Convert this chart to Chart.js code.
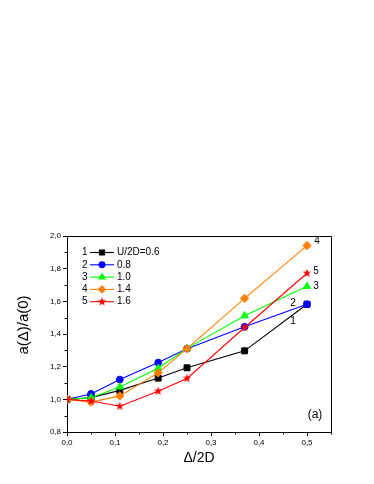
<!DOCTYPE html>
<html>
<head>
<meta charset="utf-8">
<script src="https://cdn.jsdelivr.net/npm/chart.js@4.4.1/dist/chart.umd.min.js"></script>
<style>
  html, body { margin: 0; padding: 0; background: #fff; }
  #cvs { display: block; }
</style>
</head>
<body>
<canvas id="cvs" width="374" height="484"></canvas>
<script>
//-------------------------------------------------------------------
// data
//-------------------------------------------------------------------
const xValues = [0, 0.05, 0.11, 0.19, 0.25, 0.37, 0.5];

const series1 = [1.0, 1.01, 1.055, 1.13, 1.193, 1.297, 1.582];
const series2 = [1.0, 1.033, 1.121, 1.225, 1.31, 1.444, 1.582];
const series3 = [1.0, 1.01, 1.076, 1.19, 1.312, 1.512, 1.692];
const series4 = [1.0, 0.983, 1.021, 1.162, 1.31, 1.618, 1.941];
const series5 = [1.0, 0.99, 0.958, 1.05, 1.128, 1.44, 1.772];

const seriesNumbers = ['1', '2', '3', '4', '5'];
const seriesLabels = ['U/2D=0.6', '0.8', '1.0', '1.4', '1.6'];

const xTicks = [0, 0.1, 0.2, 0.3, 0.4, 0.5];
const yTicks = [0.8, 1.0, 1.2, 1.4, 1.6, 1.8, 2.0];

//-------------------------------------------------------------------
// styles
//-------------------------------------------------------------------
const FONT = 'Arial, "Liberation Sans", sans-serif';
const colors = ['#000000', '#0000ff', '#00ff00', '#ff8000', '#ff0000'];

function makeStar(color, outer, inner) {
  let size = Math.ceil(outer * 2 + 2);
  let c = document.createElement('canvas');
  c.width = size;
  c.height = size;
  let g = c.getContext('2d');
  g.fillStyle = color;
  g.beginPath();
  for (let i = 0; i < 10; i++) {
    let r = (i % 2 == 0) ? outer : inner;
    let a = -Math.PI / 2 + i * Math.PI / 5;
    let px = size / 2 + r * Math.cos(a);
    let py = size / 2 + r * Math.sin(a);
    if (i == 0) g.moveTo(px, py); else g.lineTo(px, py);
  }
  g.closePath();
  g.fill();
  return c;
}

const starImg = makeStar(colors[4], 4.6, 1.9);
const pointStyles = ['rect', 'circle', 'triangle', 'rectRot', starImg];
const pointRadii = [4.2, 3.4, 4.2, 4.2, 4.5];

function toXY(ys) {
  return xValues.map((x, i) => ({ x: x, y: ys[i] }));
}

function makeDataset(idx, ys, order) {
  return {
    label: seriesLabels[idx],
    data: toXY(ys),
    borderColor: colors[idx],
    backgroundColor: colors[idx],
    borderWidth: 1.1,
    pointStyle: pointStyles[idx],
    pointRadius: pointRadii[idx],
    pointBorderWidth: 1,
    pointBorderColor: colors[idx],
    pointBackgroundColor: colors[idx],
    tension: 0,
    order: order
  };
}

function fmt(v) {
  return v.toFixed(1).replace('.', ',');
}

//-------------------------------------------------------------------
// extra drawing: frame, minor ticks, legend, labels, titles
//-------------------------------------------------------------------
const decorPlugin = {
  id: 'decor',
  afterDraw(chart) {
    const ctx = chart.ctx;
    const xs = chart.scales.x;
    const ys = chart.scales.y;
    const a = chart.chartArea;

    ctx.save();
    ctx.strokeStyle = '#000';
    ctx.lineWidth = 1;

    // top and right frame
    ctx.beginPath();
    ctx.moveTo(a.left, a.top + 0.5);
    ctx.lineTo(a.right + 0.5, a.top + 0.5);
    ctx.lineTo(a.right + 0.5, a.bottom);
    ctx.stroke();

    // minor ticks
    ctx.beginPath();
    for (let v = 0.05; v < 0.56; v += 0.1) {
      let px = Math.round(xs.getPixelForValue(v)) + 0.5;
      ctx.moveTo(px, a.bottom);
      ctx.lineTo(px, a.bottom + 2.5);
    }
    for (let v = 0.9; v < 2.0; v += 0.2) {
      let py = Math.round(ys.getPixelForValue(v)) + 0.5;
      ctx.moveTo(a.left, py);
      ctx.lineTo(a.left - 2.5, py);
    }
    ctx.stroke();

    // legend
    ctx.font = '10px ' + FONT;
    ctx.textBaseline = 'middle';
    let metas = [0, 1, 2, 3, 4].map(i => chart.getDatasetMeta(i));
    for (let i = 0; i < 5; i++) {
      let rowY = 252.5 + i * 12.3;
      ctx.fillStyle = '#000';
      ctx.textAlign = 'left';
      ctx.fillText(seriesNumbers[i], 82, rowY);
      ctx.strokeStyle = colors[i];
      ctx.lineWidth = 1.1;
      ctx.beginPath();
      ctx.moveTo(90, rowY);
      ctx.lineTo(114, rowY);
      ctx.stroke();
      ctx.fillStyle = colors[i];
      Chart.helpers.drawPoint(ctx, {
        pointStyle: pointStyles[i],
        radius: pointRadii[i] * 0.85,
        borderWidth: 1,
        rotation: 0
      }, 102, rowY);
      ctx.fillStyle = '#000';
      ctx.fillText(seriesLabels[i], 117, rowY);
    }

    // curve numbers at the right end
    const offsets = [[-14, 17], [-14, -1], [9, 0], [10, -4], [9, -2]];
    ctx.font = '10px ' + FONT;
    ctx.fillStyle = '#000';
    ctx.textAlign = 'center';
    for (let i = 0; i < 5; i++) {
      let last = metas[i].data[metas[i].data.length - 1];
      ctx.fillText(seriesNumbers[i], last.x + offsets[i][0], last.y + offsets[i][1]);
    }

    // panel tag
    ctx.font = '12px ' + FONT;
    ctx.fillText('(a)', 315, 415);

    // axis titles
    ctx.font = '14px ' + FONT;
    ctx.fillText('\u0394/2D', (a.left + a.right) / 2, 458);

    ctx.translate(24, 325);
    ctx.rotate(-Math.PI / 2);
    ctx.font = '15px ' + FONT;
    ctx.fillText('a(\u0394)/a(0)', 0, 0);
    ctx.restore();
  }
};

//-------------------------------------------------------------------
// chart
//-------------------------------------------------------------------
const ctx = document.getElementById('cvs').getContext('2d');

new Chart(ctx, {
  type: 'line',
  data: {
    datasets: [
      makeDataset(0, series1, 4),
      makeDataset(1, series2, 3),
      makeDataset(2, series3, 2),
      makeDataset(3, series4, 1),
      makeDataset(4, series5, 0)
    ]
  },
  options: {
    responsive: false,
    animation: false,
    layout: {
      padding: { top: 236, right: 43, left: 0, bottom: 0 }
    },
    plugins: {
      legend: { display: false },
      tooltip: { enabled: false }
    },
    scales: {
      x: {
        type: 'linear',
        min: 0,
        max: 0.55,
        afterBuildTicks: (scale) => { scale.ticks = xTicks.map(v => ({ value: v })); },
        afterFit: (scale) => { scale.height = 52; },
        border: { display: true, color: '#000', width: 1 },
        grid: { drawOnChartArea: false, tickLength: 4, color: '#000', tickColor: '#000' },
        ticks: {
          padding: 2,
          color: '#000',
          font: { family: FONT, size: 8 },
          maxRotation: 0,
          callback: (v) => fmt(v)
        }
      },
      y: {
        type: 'linear',
        min: 0.8,
        max: 2.0,
        afterBuildTicks: (scale) => { scale.ticks = yTicks.map(v => ({ value: v })); },
        afterFit: (scale) => { scale.width = 67; },
        border: { display: true, color: '#000', width: 1 },
        grid: { drawOnChartArea: false, tickLength: 4, color: '#000', tickColor: '#000' },
        ticks: {
          padding: 2,
          color: '#000',
          font: { family: FONT, size: 8 },
          callback: (v) => fmt(v)
        }
      }
    }
  },
  plugins: [decorPlugin]
});
</script>
</body>
</html>
